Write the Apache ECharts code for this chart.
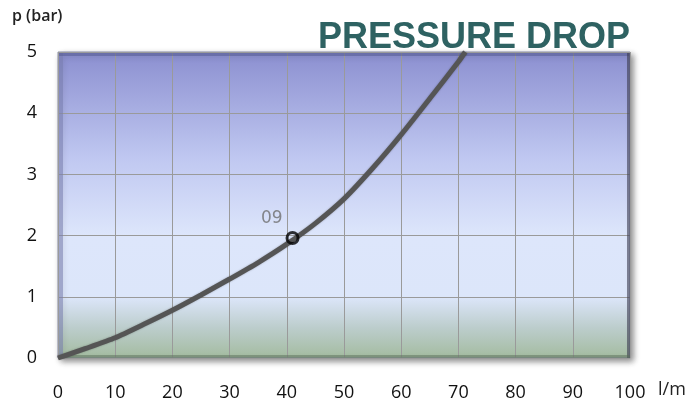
<!DOCTYPE html>
<html><head><meta charset="utf-8">
<script src="https://cdn.jsdelivr.net/npm/echarts@6/dist/echarts.min.js"></script>
<style>html,body{margin:0;padding:0;background:#fff}#c{width:694px;height:406px}</style>
</head><body><div id="c"></div>
<script>
const flow = [0, 5, 10, 15, 20, 25, 30, 35, 40, 45, 50, 55, 60, 65, 70, 71.2];
const pressure = [0, 0.16, 0.33, 0.55, 0.78, 1.03, 1.29, 1.56, 1.86, 2.2, 2.6, 3.1, 3.65, 4.24, 4.84, 5];
const markerPoint = [41, 1.96];
const markerLabel = '09';
const xTicks = [0,10,20,30,40,50,60,70,80,90,100];
const yTicks = [0,1,2,3,4,5];

const chart = echarts.init(document.getElementById('c'));
const FONT = 'Open Sans';
chart.setOption({
  animation: false,
  grid: {
    left: 58, right: 64, top: 52, bottom: 48,
    show: true,
    borderColor: '#8a8fa8', borderWidth: 1,
    backgroundColor: {
      type: 'linear', x: 0, y: 0, x2: 0, y2: 1,
      colorStops: [
        {offset: 0, color: '#8b8fd0'},
        {offset: 0.35, color: '#c0c8f1'},
        {offset: 0.6, color: '#dde6fb'},
        {offset: 0.8, color: '#dce6fa'},
        {offset: 0.9, color: '#bccdcc'},
        {offset: 1, color: '#a3bb9f'}
      ]
    },
    shadowColor: 'rgba(0,0,0,0.45)', shadowBlur: 6, shadowOffsetX: 3, shadowOffsetY: 3
  },
  xAxis: {
    type: 'value', min: 0, max: 100, interval: 10,
    axisLine: {show: false}, axisTick: {show: false},
    splitLine: {show: true, lineStyle: {color: '#9a9a9a', width: 1}},
    axisLabel: {color: '#111', fontSize: 18, fontFamily: FONT, margin: 26,
      formatter: v => xTicks.includes(v) ? String(v) : ''}
  },
  yAxis: {
    type: 'value', min: 0, max: 5, interval: 1,
    axisLine: {show: false}, axisTick: {show: false},
    splitLine: {show: true, lineStyle: {color: '#9a9a9a', width: 1}},
    axisLabel: {color: '#111', fontSize: 18, fontFamily: FONT, margin: 26, align: 'center',
      formatter: v => yTicks.includes(v) ? String(v) : ''}
  },
  graphic: [
    {type: 'text', left: 12, top: 8, style: {text: 'p (bar)', font: '600 16px "Open Sans"', fill: '#222'}},
    {type: 'text', left: 658, top: 381, style: {text: 'l/m', font: '18px "Open Sans"', fill: '#222'}},
    {type: 'text', left: 318, top: 20, z: 10, style: {text: 'PRESSURE DROP', font: 'bold 36px "Liberation Sans"', fill: '#2e6262'}},
    {type: 'rect', shape: {x: 59, y: 53, width: 4, height: 304}, style: {fill: 'rgba(120,125,175,0.55)'}, z: 1},
    {type: 'rect', shape: {x: 59, y: 53, width: 570, height: 3}, style: {fill: 'rgba(80,85,140,0.5)'}, z: 1},
    {type: 'rect', shape: {x: 627, y: 53, width: 3, height: 305}, style: {fill: 'rgba(60,60,80,0.6)'}, z: 1},
    {type: 'rect', shape: {x: 59, y: 355, width: 571, height: 3}, style: {fill: 'rgba(90,110,90,0.5)'}, z: 1}
  ],
  series: [
    {
      type: 'line', smooth: 0.2, showSymbol: false, z: 3,
      data: flow.map((x, i) => [x, pressure[i]]),
      lineStyle: {color: '#555', width: 5, shadowColor: 'rgba(0,0,0,0.3)', shadowBlur: 2}
    },
    {
      type: 'scatter', z: 4,
      data: [markerPoint],
      symbol: 'circle', symbolSize: 11,
      itemStyle: {color: 'rgba(0,0,0,0)', borderColor: '#000', borderWidth: 3},
      label: {show: true, formatter: markerLabel, position: 'left', offset: [2, -19],
        color: '#6e6e6e', fontSize: 17, fontFamily: 'DejaVu Sans'}
    }
  ]
});
</script></body></html>
